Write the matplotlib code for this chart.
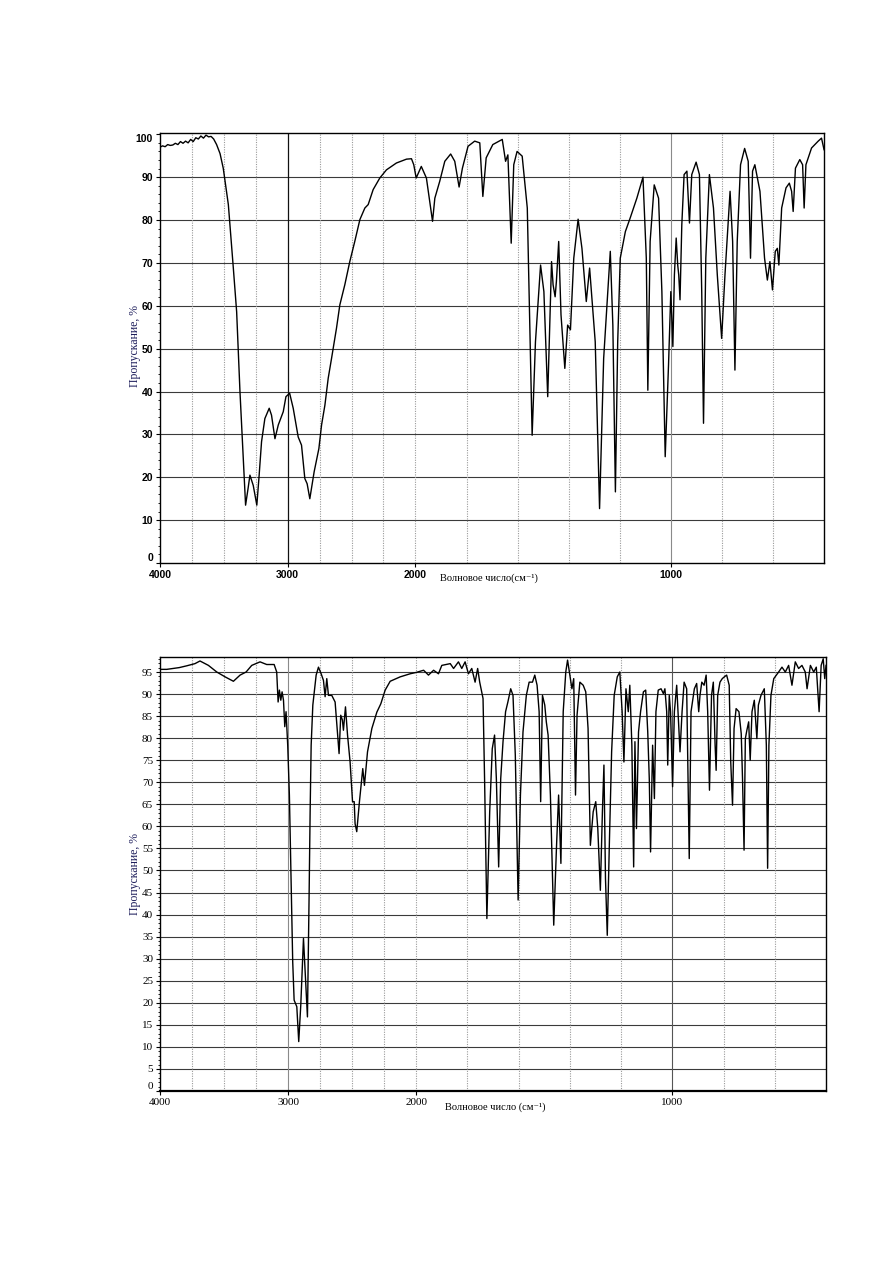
"""Two IR transmission spectra (Пропускание vs волновое число), stacked."""
import matplotlib
matplotlib.use("Agg")
import matplotlib.pyplot as plt
import matplotlib.ticker as ticker
import numpy as np

# ── data ────────────────────────────────────────────────────────────────────
top_wn = [4000, 3980, 3960, 3940, 3920, 3900, 3880, 3860, 3840, 3820, 3800,
          3780, 3760, 3740, 3720, 3700, 3680, 3660, 3640, 3620, 3600, 3580,
          3557, 3530, 3505, 3465, 3426, 3400, 3374, 3348, 3330, 3310, 3296,
          3270, 3242, 3225, 3205, 3179, 3145, 3127, 3100, 3074, 3035, 3014,
          2985, 2957, 2918, 2892, 2866, 2848, 2827, 2793, 2756, 2735, 2709,
          2683, 2657, 2618, 2592, 2553, 2514, 2475, 2435, 2396, 2370, 2331,
          2279, 2227, 2149, 2070, 2031, 2013, 1997, 1977, 1957, 1944, 1933,
          1924, 1905, 1885, 1862, 1846, 1829, 1816, 1794, 1768, 1748, 1736,
          1723, 1697, 1660, 1647, 1638, 1625, 1615, 1602, 1582, 1562, 1552,
          1543, 1530, 1510, 1497, 1482, 1474, 1467, 1461, 1453, 1448, 1439,
          1430, 1415, 1404, 1393, 1380, 1363, 1348, 1331, 1318, 1296, 1279,
          1263, 1237, 1227, 1217, 1208, 1198, 1178, 1159, 1133, 1109, 1096,
          1090, 1081, 1065, 1048, 1035, 1022, 1009, 1000, 992, 986, 979, 973,
          969, 964, 957, 948, 937, 927, 918, 901, 888, 879, 872, 863, 849,
          833, 818, 801, 788, 768, 758, 749, 740, 727, 711, 697, 688, 680, 671,
          651, 633, 622, 612, 602, 591, 583, 577, 566, 549, 536, 527, 521,
          512, 495, 484, 478, 471, 449, 423, 410, 400]
top_tr = [97.0, 97.3, 97.1, 97.6, 97.4, 97.5, 97.9, 97.6, 98.3, 97.9, 98.4,
          98.0, 98.8, 98.3, 99.2, 98.9, 99.6, 99.1, 99.8, 99.4, 99.5, 98.9,
          97.6, 95.5, 92.1, 83.6, 68.8, 58.6, 40.0, 24.4, 13.5, 17.5, 20.5,
          18.1, 13.5, 20.0, 28.3, 33.7, 36.1, 34.5, 29.0, 32.2, 35.3, 38.8,
          39.6, 36.1, 29.4, 27.5, 19.7, 18.5, 15.0, 21.3, 26.7, 32.2, 36.8,
          43.1, 47.7, 54.8, 60.2, 64.9, 70.3, 75.0, 80.1, 82.8, 83.6, 87.1,
          89.8, 91.7, 93.3, 94.2, 94.3, 92.9, 89.8, 92.5, 89.8, 84.3, 79.7,
          85.1, 89.0, 93.7, 95.4, 93.7, 87.7, 92.1, 97.2, 98.4, 98.0, 85.5,
          94.5, 97.6, 98.8, 93.7, 95.2, 74.6, 92.9, 96.0, 94.9, 82.8, 55.5,
          29.8, 51.6, 69.5, 63.3, 38.8, 55.5, 70.3, 64.9, 62.1, 65.7, 75.0,
          57.9, 45.4, 55.5, 54.4, 71.1, 80.2, 73.4, 61.0, 68.8, 51.6, 12.7,
          47.7, 72.7, 55.5, 16.6, 51.6, 71.1, 77.3, 80.5, 85.1, 90.0, 71.1,
          40.3, 75.0, 88.2, 85.1, 63.3, 24.8, 46.2, 63.3, 50.5, 67.2, 75.8,
          69.5, 67.2, 61.4, 78.9, 90.6, 91.4, 79.3, 90.6, 93.5, 90.6, 63.3,
          32.6, 71.1, 90.6, 82.8, 67.2, 52.4, 67.2, 86.7, 75.0, 45.0, 75.0,
          92.9, 96.7, 93.7, 71.1, 91.4, 92.9, 86.7, 71.1, 66.0, 70.3, 63.7,
          72.7, 73.4, 69.5, 82.8, 87.5, 88.6, 86.7, 82.0, 92.1, 94.1, 92.9,
          82.8, 92.9, 96.8, 98.4, 99.1, 96.4]

bot_wn = [4000, 3948, 3850, 3792, 3727, 3688, 3622, 3557, 3492, 3427, 3375,
          3328, 3284, 3219, 3167, 3109, 3089, 3078, 3068, 3057, 3047, 3036,
          3026, 3016, 3003, 2990, 2977, 2964, 2953, 2932, 2917, 2901, 2880,
          2867, 2849, 2836, 2828, 2820, 2807, 2781, 2763, 2742, 2724, 2711,
          2698, 2685, 2659, 2633, 2615, 2602, 2589, 2576, 2568, 2552, 2536,
          2516, 2497, 2484, 2477, 2464, 2443, 2417, 2404, 2380, 2346, 2307,
          2276, 2242, 2203, 2125, 2047, 2000, 1971, 1952, 1932, 1913, 1900,
          1867, 1854, 1835, 1822, 1809, 1796, 1783, 1770, 1760, 1752, 1739,
          1733, 1724, 1713, 1703, 1694, 1687, 1678, 1670, 1661, 1651, 1642,
          1631, 1622, 1613, 1602, 1593, 1583, 1570, 1559, 1546, 1537, 1528,
          1520, 1514, 1507, 1498, 1492, 1485, 1476, 1463, 1452, 1444, 1435,
          1426, 1416, 1409, 1400, 1392, 1385, 1378, 1372, 1361, 1348, 1338,
          1329, 1320, 1309, 1299, 1291, 1281, 1273, 1267, 1261, 1254, 1246,
          1237, 1227, 1215, 1205, 1196, 1189, 1181, 1172, 1166, 1158, 1151,
          1146, 1140, 1132, 1124, 1113, 1104, 1096, 1090, 1085, 1077, 1070,
          1064, 1055, 1044, 1035, 1029, 1022, 1018, 1012, 1007, 999, 992, 983,
          975, 970, 962, 954, 944, 934, 927, 914, 905, 897, 892, 885, 876, 868,
          862, 855, 847, 840, 833, 829, 823, 814, 805, 797, 788, 778, 772, 765,
          759, 751, 740, 731, 726, 720, 715, 709, 702, 696, 689, 680, 670, 664,
          654, 641, 633, 628, 623, 615, 604, 585, 572, 559, 546, 533, 520, 507,
          494, 481, 474, 461, 448, 438, 427, 419, 411, 405, 400]
bot_tr = [95.6, 95.6, 96.0, 96.4, 96.9, 97.5, 96.5, 95.0, 93.9, 92.9, 94.3,
          95.0, 96.5, 97.3, 96.7, 96.7, 95.0, 88.2, 90.9, 88.6, 90.5, 88.6,
          82.6, 86.0, 78.4, 67.1, 48.2, 29.3, 20.6, 19.1, 11.2, 19.5, 34.6,
          27.0, 16.8, 44.4, 63.3, 78.4, 87.5, 94.3, 96.1, 94.6, 93.1, 89.4,
          93.5, 89.7, 89.7, 88.2, 81.4, 76.5, 85.2, 84.1, 81.8, 87.1, 80.7,
          74.6, 65.6, 65.6, 60.6, 58.8, 65.6, 73.1, 69.3, 76.9, 82.2, 85.9,
          87.8, 90.9, 92.9, 93.9, 94.6, 94.9, 95.4, 94.3, 95.4, 94.6, 96.5,
          96.9, 95.8, 97.3, 95.8, 97.3, 94.6, 95.8, 92.7, 95.8, 92.7, 89.0,
          70.8, 39.1, 63.3, 77.6, 80.7, 70.8, 50.8, 70.8, 79.2, 86.0, 88.2,
          91.2, 89.7, 76.1, 43.3, 67.1, 81.4, 89.7, 92.7, 92.7, 94.3, 92.0,
          86.0, 65.6, 89.7, 87.5, 83.7, 80.7, 67.1, 37.6, 55.7, 67.1, 51.6,
          86.0, 95.0, 97.7, 94.3, 91.2, 93.5, 67.1, 85.2, 92.7, 92.0, 90.5,
          82.2, 55.7, 63.3, 65.6, 59.5, 45.5, 63.3, 73.9, 48.2, 35.3, 55.7,
          76.9, 89.7, 93.9, 95.0, 86.0, 74.6, 91.2, 86.0, 92.0, 78.4, 50.8,
          79.2, 59.5, 81.4, 86.0, 90.5, 90.9, 81.4, 70.8, 54.2, 78.4, 66.3,
          86.0, 90.9, 91.2, 90.1, 91.2, 86.0, 73.9, 89.7, 86.0, 69.0, 86.0, 92.0,
          82.9, 76.9, 86.0, 92.7, 91.2, 52.7, 86.0, 91.2, 92.4, 86.0, 89.7, 92.7,
          92.0, 94.3, 86.0, 68.2, 89.7, 92.7, 78.4, 72.7, 89.7, 92.7, 93.5,
          93.9, 94.3, 92.0, 74.6, 64.8, 82.2, 86.7, 86.0, 81.0, 70.8, 54.6,
          79.9, 81.8, 83.7, 75.0, 86.0, 88.6, 79.9, 87.5, 89.7, 91.2, 78.4,
          50.5, 78.4, 89.7, 93.5, 95.0, 96.1, 95.0, 96.5, 92.0, 97.3, 95.8,
          96.5, 95.0, 91.2, 96.5, 95.0, 96.1, 86.0, 96.5, 98.0, 93.5, 96.5]

x_ticks = [4000, 3000, 2000, 1000]
x_dotted = [3750, 3500, 3250, 2750, 2500, 2250, 2000, 1800, 1600, 1400,
            1200, 800, 600]
top_yticks = list(range(0, 101, 10))
bot_yticks = list(range(0, 96, 5))

YLABEL = "Пропускание, %"


# Typical IR chart paper: scale doubles below 2000 cm-1
def _fwd(w):
  w = np.asarray(w, dtype=float)
  return np.where(w >= 2000, (4000 - w) / 1000, 2 + (2000 - w) / 500)


def _inv(u):
  u = np.asarray(u, dtype=float)
  return np.where(u <= 2, 4000 - 1000 * u, 2000 - 500 * (u - 2))


def setup_axes(ax, yticks, ylim, hgrid, minor_step, tick_font, label_y):
  ax.set_xscale("function", functions=(_fwd, _inv))
  # fwd is decreasing, so (400, 4000) puts 4000 on the left
  ax.set_xlim(400, 4000)
  ax.set_ylim(*ylim)
  ax.set_xticks(x_ticks)
  ax.set_xticklabels([str(t) for t in x_ticks])
  ax.xaxis.set_minor_locator(ticker.NullLocator())
  ax.set_yticks(yticks)
  ax.yaxis.set_minor_locator(ticker.MultipleLocator(minor_step))
  ax.tick_params(axis="both", which="major", length=3, width=0.8, pad=2)
  ax.tick_params(axis="y", which="minor", length=1.5, width=0.6)
  for lab in ax.get_xticklabels() + ax.get_yticklabels():
    lab.set_fontproperties(tick_font)

  for y in hgrid:
    ax.axhline(y, color="#3a3a3a", lw=0.8, zorder=1)
  for x in x_dotted:
    ax.axvline(x, color="#9a9a9a", lw=0.8, ls=(0, (1, 1.2)), zorder=1)
  for sp in ax.spines.values():
    sp.set_linewidth(1.0)
  ax.set_ylabel(YLABEL, family="Liberation Serif", fontsize=8.5,
                color="#1c1c5a", labelpad=4)
  ax.yaxis.set_label_coords(-0.028, label_y)


fig = plt.figure(figsize=(8.93, 12.63), dpi=100)
ax1 = fig.add_axes([0.1792, 0.5542, 0.7436, 0.3405])
ax2 = fig.add_axes([0.1792, 0.1362, 0.7458, 0.3436])

# top spectrum
setup_axes(ax1, top_yticks, (0, 100.3), range(10, 100, 10), 2,
           dict(family="Liberation Sans", weight="bold", size=7.5), 0.505)
ax1.axvline(3000, color="#111111", lw=0.9, zorder=1)
ax1.axvline(1000, color="#8a8a8a", lw=0.8, zorder=1)
ax1.plot(top_wn, top_tr, color="black", lw=1.0, zorder=3)
ytl = ax1.get_yticklabels()
ytl[0].set_va("bottom")
ytl[-1].set_va("top")
ax1.text(0.422, -0.036, "Волновое число(см⁻¹)", transform=ax1.transAxes,
         family=["Liberation Serif", "DejaVu Serif"], fontsize=7.5,
         ha="left", va="center")

# bottom spectrum
setup_axes(ax2, bot_yticks, (0, 98.4), range(5, 96, 5), 1,
           dict(family="Liberation Serif", size=8), 0.5)
ax2.axvline(3000, color="#8a8a8a", lw=0.8, zorder=1)
ax2.axvline(1000, color="#555555", lw=0.8, zorder=1)
ax2.spines["bottom"].set_linewidth(1.6)
ax2.plot(bot_wn, bot_tr, color="black", lw=1.0, zorder=3)
ax2.get_yticklabels()[0].set_va("bottom")
ax2.text(0.428, -0.037, "Волновое число (см⁻¹)", transform=ax2.transAxes,
         family=["Liberation Serif", "DejaVu Serif"], fontsize=7.5,
         ha="left", va="center")

fig.savefig("out.png", dpi=100)
plt.close(fig)
